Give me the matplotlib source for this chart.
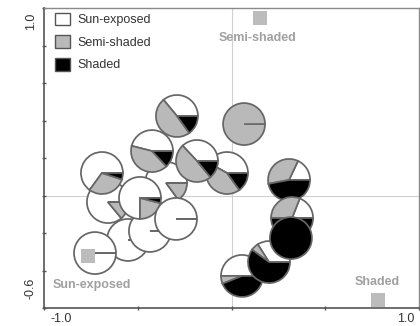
#!/usr/bin/env python3
"""Ordination plot: sites as pies of light-habitat shares, plus habitat centroids"""

import matplotlib
matplotlib.use('Agg')
import matplotlib.pyplot as plt
from matplotlib.patches import Patch

plt.rcParams['font.family'] = ['Liberation Sans', 'DejaVu Sans']

# site scores on axis 1 / axis 2 (drawing order: later sites sit on top)
site_x = [-0.349, -0.659, -0.691, -0.552, -0.435, -0.728, -0.488, -0.296,
          -0.024, -0.184, -0.424, -0.291, 0.067,
          0.056, 0.200, 0.307, 0.323, 0.317]
site_y = [0.067, -0.035, 0.120, -0.237, -0.189, -0.307, -0.013, -0.125,
          0.120, 0.184, 0.237, 0.424, 0.381,
          -0.429, -0.355, 0.083, -0.120, -0.227]

# share of each habitat per site (%)
sun_pct = [85, 86, 65, 100, 100, 100, 75, 100,
           42, 37, 46, 36, 0,
           50, 34, 18, 19, 0]
semi_pct = [15, 14, 30, 0, 0, 0, 21, 0,
            43, 49, 41, 49, 100,
            6, 6, 35, 31, 0]
shade_pct = [0, 0, 5, 0, 0, 0, 4, 0,
             15, 14, 13, 15, 0,
             44, 60, 47, 50, 100]

habitats = ['Sun-exposed', 'Semi-shaded', 'Shaded']
habitat_colors = ['#ffffff', '#b9b9b9', '#000000']
centroid_x = [-0.765, 0.152, 0.781]
centroid_y = [-0.323, 0.947, -0.557]

PIE_R = 0.112
EDGE = '#666666'

fig = plt.figure(figsize=(4.2, 3.26), dpi=100)
ax = fig.add_axes([44 / 420, 18 / 326, 375 / 420, 300 / 326])

# axis cross through the origin
ax.axvline(0, color='#d0d0d0', linewidth=0.8, zorder=0)
ax.axhline(0, color='#d0d0d0', linewidth=0.8, zorder=0)

for i in range(len(site_x)):
  fracs = [sun_pct[i], semi_pct[i], shade_pct[i]]
  ax.pie(fracs, center=(site_x[i], site_y[i]), radius=PIE_R,
         colors=habitat_colors, startangle=0, counterclock=True,
         frame=True,
         wedgeprops=dict(edgecolor=EDGE, linewidth=1.25, zorder=2 + i * 0.01))

# habitat centroids
ax.scatter(centroid_x, centroid_y, marker='s', s=90, color='#bcbcbc',
           linewidths=0, zorder=5)
label_offsets = [(4, -29), (-2, -20), (-1, 18)]
for name, cx, cy, off in zip(habitats, centroid_x, centroid_y, label_offsets):
  ax.annotate(name, (cx, cy), xytext=off, textcoords='offset pixels',
              ha='center', va='center', fontsize=9, fontweight='bold',
              color='#a0a0a0', zorder=6)

ax.set_xlim(-1.0, 1.0)
ax.set_ylim(-0.6, 1.0)
ax.set_aspect('equal', adjustable='box')

ax.set_xticks([-1.0, -0.5, 0.0, 0.5, 1.0])
ax.set_yticks([-0.6, -0.4, -0.2, 0.0, 0.2, 0.4, 0.6, 0.8, 1.0])
ax.set_xticklabels([])
ax.set_yticklabels([])
ax.tick_params(direction='inout', length=3.5, width=1, color='#555555')

for side in ['left', 'bottom']:
  ax.spines[side].set_color('#555555')
  ax.spines[side].set_linewidth(1.2)
for side in ['top', 'right']:
  ax.spines[side].set_color('#8a8a8a')
  ax.spines[side].set_linewidth(1.0)

# end values only, pulled in from the corners
tick_style = dict(transform=ax.transAxes, fontsize=9, color='#333333',
                  ha='center', va='center', clip_on=False)
ax.text(0.045, -0.035, '-1.0', **tick_style)
ax.text(0.965, -0.035, '1.0', **tick_style)
ax.text(-0.035, 0.955, '1.0', rotation=90, **tick_style)
ax.text(-0.035, 0.065, '-0.6', rotation=90, **tick_style)

handles = [Patch(facecolor=c, edgecolor='#555555', linewidth=1.0) for c in habitat_colors]
ax.legend(handles, habitats, loc='upper left', bbox_to_anchor=(0.028, 0.985),
          frameon=False, fontsize=9, handlelength=1.2, handleheight=1.2,
          handletextpad=0.65, labelspacing=0.72, borderpad=0, borderaxespad=0,
          labelcolor='#333333')

fig.savefig('out.png', dpi=100)
